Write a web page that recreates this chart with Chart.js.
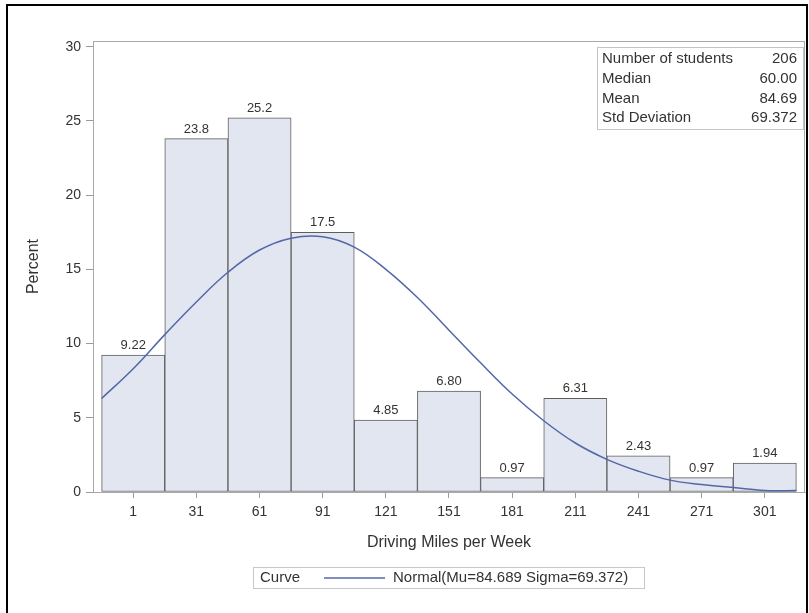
<!DOCTYPE html>
<html>
<head>
<meta charset="utf-8">
<script src="https://cdn.jsdelivr.net/npm/chart.js@4.4.1/dist/chart.umd.min.js"></script>
<style>
  html, body { margin: 0; padding: 0; background: #fff; }
  canvas { display: block; }
</style>
</head>
<body>
<canvas id="hist" width="809" height="613"></canvas>
<script>
// histogram bins (midpoints) and percent per bin
const midpoints = [1, 31, 61, 91, 121, 151, 181, 211, 241, 271, 301];
const percents = [9.22, 23.8, 25.2, 17.5, 4.85, 6.80, 0.97, 6.31, 2.43, 0.97, 1.94];
const percentLabels = ['9.22', '23.8', '25.2', '17.5', '4.85', '6.80', '0.97', '6.31', '2.43', '0.97', '1.94'];
const yTicks = [0, 5, 10, 15, 20, 25, 30];

// fitted normal curve
const curveX = [-14, 1, 16, 31, 46, 61, 76, 91, 106, 121, 136, 151, 166, 181, 196, 211, 226, 241, 256, 271, 286, 301, 316];
const curveY = [6.3, 8.3, 10.6, 12.8, 14.8, 16.3, 17.1, 17.2, 16.5, 15.0, 13.1, 10.9, 8.7, 6.6, 4.8, 3.3, 2.2, 1.4, 0.8, 0.5, 0.3, 0.1, 0.1];

// inset statistics table
const statLabels = ['Number of students', 'Median', 'Mean', 'Std Deviation'];
const statValues = ['206', '60.00', '84.69', '69.372'];

const xTitle = 'Driving Miles per Week';
const yTitle = 'Percent';
const legendTitle = 'Curve';
const legendLabel = 'Normal(Mu=84.689 Sigma=69.372)';

const FONT = '"Liberation Sans", Arial, sans-serif';
const TEXT = '#333333';
const CURVE = '#5566a8';

const decorPlugin = {
    id: 'decor',
    beforeDraw: function (chart) {
        const ctx = chart.ctx;
        ctx.save();
        ctx.fillStyle = '#fff';
        ctx.fillRect(0, 0, chart.width, chart.height);
        ctx.restore();
    },
    afterDatasetsDraw: function (chart) {
        const ctx = chart.ctx;
        const meta = chart.getDatasetMeta(1);
        ctx.save();
        ctx.font = '13px ' + FONT;
        ctx.fillStyle = TEXT;
        ctx.textAlign = 'center';
        ctx.textBaseline = 'bottom';
        meta.data.forEach((bar, i) => {
            ctx.fillText(percentLabels[i], bar.x, bar.y - 3);
        });
        ctx.restore();
    },
    afterDraw: function (chart) {
        const ctx = chart.ctx;
        const a = chart.chartArea;
        ctx.save();

        // plot frame
        ctx.strokeStyle = '#a9a9a9';
        ctx.lineWidth = 1;
        ctx.strokeRect(Math.round(a.left) + 0.5, Math.round(a.top) + 0.5,
            Math.round(a.right - a.left) - 1, Math.round(a.bottom - a.top));

        // inset table
        const tx = 597, ty = 47, tw = 206, th = 82;
        ctx.fillStyle = '#fff';
        ctx.fillRect(tx, ty, tw, th);
        ctx.strokeStyle = '#c4c4c4';
        ctx.strokeRect(tx + 0.5, ty + 0.5, tw, th);
        ctx.font = '15px ' + FONT;
        ctx.fillStyle = TEXT;
        ctx.textBaseline = 'middle';
        statLabels.forEach((lab, i) => {
            const y = 59 + i * 19.7;
            ctx.textAlign = 'left';
            ctx.fillText(lab, tx + 5, y);
            ctx.textAlign = 'right';
            ctx.fillText(statValues[i], tx + tw - 6, y);
        });

        // axis titles
        ctx.font = '16px ' + FONT;
        ctx.textAlign = 'center';
        ctx.fillText(xTitle, (a.left + a.right) / 2, 543);
        ctx.save();
        ctx.translate(34, (a.top + a.bottom) / 2);
        ctx.rotate(-Math.PI / 2);
        ctx.fillText(yTitle, 0, 0);
        ctx.restore();

        // legend
        ctx.strokeStyle = '#c8c8c8';
        ctx.strokeRect(253.5, 567.5, 391, 21);
        ctx.font = '15px ' + FONT;
        ctx.textAlign = 'left';
        ctx.fillText(legendTitle, 260, 578);
        ctx.strokeStyle = CURVE;
        ctx.lineWidth = 1.5;
        ctx.beginPath();
        ctx.moveTo(324, 578);
        ctx.lineTo(385, 578);
        ctx.stroke();
        ctx.fillText(legendLabel, 393, 578);

        // outer black frame
        ctx.strokeStyle = '#000';
        ctx.lineWidth = 2;
        ctx.beginPath();
        ctx.moveTo(7, 613);
        ctx.lineTo(7, 5);
        ctx.lineTo(807, 5);
        ctx.lineTo(807, 613);
        ctx.stroke();
        ctx.restore();
    }
};

new Chart(document.getElementById('hist'), {
    type: 'bar',
    data: {
        datasets: [{
            type: 'line',
            order: 0,
            data: curveX.map((x, i) => ({ x: x, y: curveY[i] })),
            borderColor: CURVE,
            borderWidth: 1.5,
            pointRadius: 0,
            tension: 0.4,
            fill: false
        }, {
            type: 'bar',
            order: 1,
            data: midpoints.map((x, i) => ({ x: x, y: percents[i] })),
            backgroundColor: '#e1e6f0',
            borderColor: '#5e5e5e',
            borderWidth: 1,
            borderSkipped: false,
            barPercentage: 1,
            categoryPercentage: 1
        }]
    },
    options: {
        responsive: false,
        animation: false,
        layout: { padding: { left: 0, top: 41, right: 4, bottom: 0 } },
        plugins: {
            legend: { display: false },
            tooltip: { enabled: false }
        },
        scales: {
            x: {
                type: 'linear',
                offset: false,
                min: -18.1,
                max: 320.1,
                afterBuildTicks: (scale) => { scale.ticks = midpoints.map(v => ({ value: v })); },
                afterFit: (scale) => { scale.height = 121; },
                grid: { offset: false, drawOnChartArea: false, drawTicks: true, tickLength: 6, tickColor: '#9a9a9a' },
                border: { display: true, color: '#a9a9a9' },
                ticks: { color: TEXT, font: { family: FONT, size: 14 }, padding: 6, maxRotation: 0, autoSkip: false }
            },
            y: {
                min: 0,
                max: 30.38,
                afterBuildTicks: (scale) => { scale.ticks = yTicks.map(v => ({ value: v })); },
                afterFit: (scale) => { scale.width = 93; },
                grid: { drawOnChartArea: false, drawTicks: true, tickLength: 7, tickColor: '#9a9a9a' },
                border: { display: true, color: '#a9a9a9' },
                ticks: { color: TEXT, font: { family: FONT, size: 14 }, padding: 5 }
            }
        }
    },
    plugins: [decorPlugin]
});
</script>
</body>
</html>
